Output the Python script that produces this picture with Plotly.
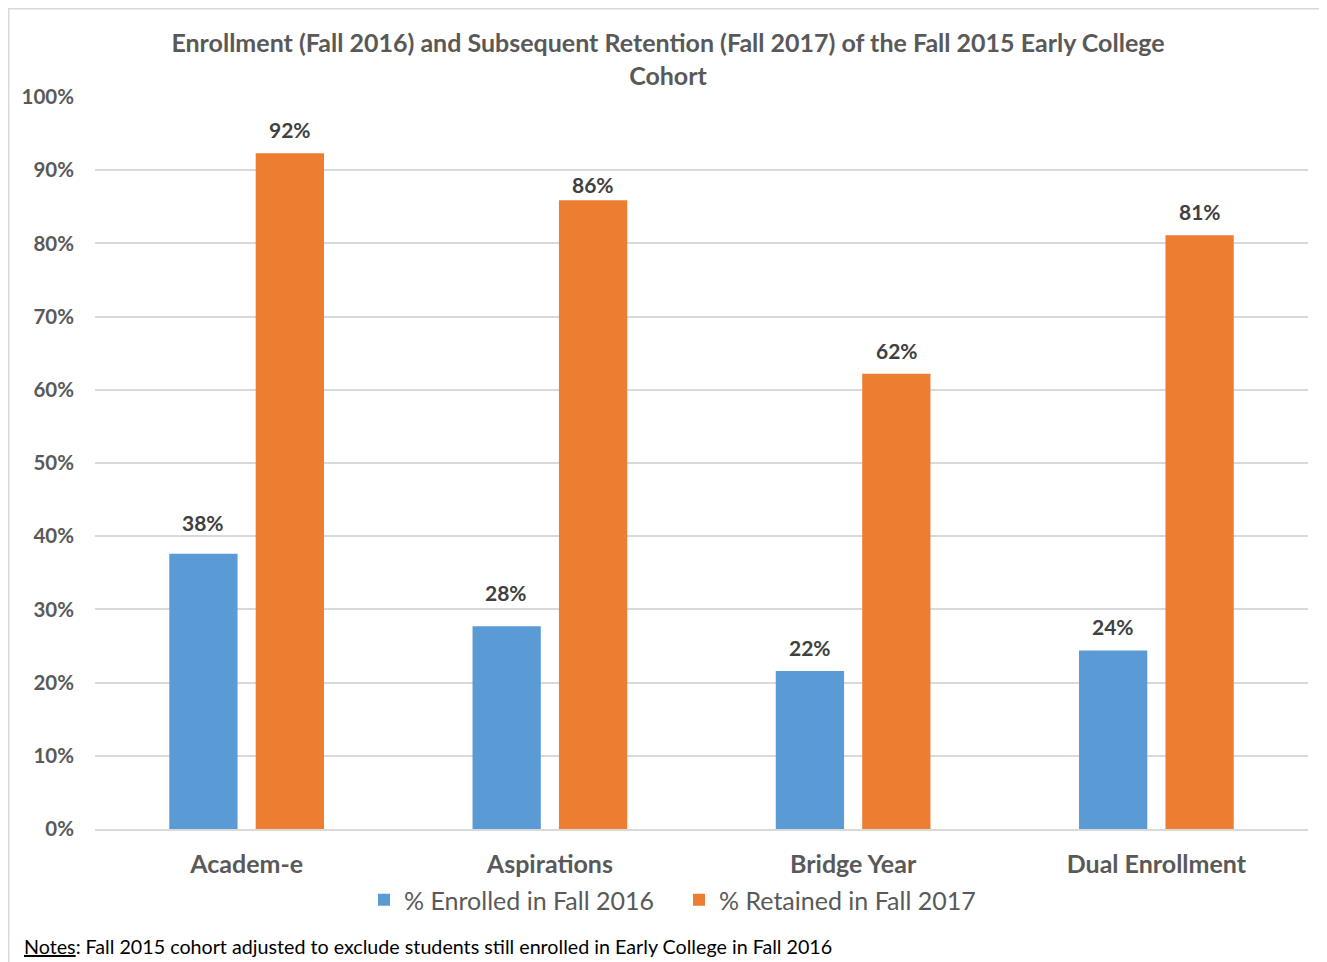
import plotly.graph_objects as go

categories = ['Academ-e', 'Aspirations', 'Bridge Year', 'Dual Enrollment']
enrolled_2016 = [37.6, 27.7, 21.6, 24.4]
retained_2017 = [92.3, 85.9, 62.2, 81.1]
series_names = ['% Enrolled in Fall 2016', '% Retained in Fall 2017']
y_ticks = [0, 10, 20, 30, 40, 50, 60, 70, 80, 90, 100]

FONT = 'Lato, Open Sans, sans-serif'
GREY = '#595959'

# page body has an 8px margin, so the figure is laid out 8px smaller
W, H = 1319, 954
L, R, T, B = 87, 19, 89, 133
PW, PH = W - L - R, H - T - B

# extra lift of a few data labels that sit higher in the source chart
label_lift_enrolled = [8, 10, 0, 0]
label_lift_retained = [0, -8, 0, 0]

fig = go.Figure()
for name, vals, color in [(series_names[0], enrolled_2016, '#5b9bd5'),
                          (series_names[1], retained_2017, '#ed7d31')]:
    fig.add_trace(go.Bar(
        x=categories, y=vals, name=name,
        marker=dict(color=color, line=dict(width=0)),
    ))

# data labels, placed over each bar of the group
for vals, lifts, shift in [(enrolled_2016, label_lift_enrolled, -43.5),
                           (retained_2017, label_lift_retained, 43.5)]:
    for c, v, lift in zip(categories, vals, lifts):
        fig.add_annotation(
            x=c, y=v, xref='x', yref='y', xshift=shift, yshift=9 + lift,
            text='<b>%.0f%%</b>' % v, showarrow=False, yanchor='bottom',
            font=dict(size=21, color='#404040', family=FONT),
        )

fig.update_layout(
    width=W, height=H,
    paper_bgcolor='white', plot_bgcolor='white',
    margin=dict(l=L, r=R, t=T, b=B),
    barmode='group', bargap=0.43, bargroupgap=0.21,
    font=dict(family=FONT, color=GREY),
    title=dict(
        text='<b>Enrollment (Fall 2016) and Subsequent Retention (Fall 2017) of the Fall 2015 Early College<br>Cohort</b>',
        x=660 / W, xanchor='center', y=1 - 44 / H, yanchor='middle',
        font=dict(size=25, color=GREY, family=FONT),
    ),
    xaxis=dict(
        showgrid=False, showline=True, linecolor='#d9d9d9', linewidth=1.5,
        ticks='', ticklabelstandoff=12,
        tickfont=dict(size=25, color=GREY, family=FONT),
        tickvals=categories, ticktext=['<b>%s</b>' % c for c in categories],
    ),
    yaxis=dict(
        range=[0, 100], tickvals=y_ticks,
        ticktext=['<b>%d%%</b>' % t for t in y_ticks],
        showgrid=True, gridcolor='#d9d9d9', gridwidth=1.5,
        zeroline=False, showline=False, ticks='', ticklabelstandoff=20,
        tickfont=dict(size=20.5, color=GREY, family=FONT),
    ),
    legend=dict(
        orientation='h', x=(356 - L) / PW, xanchor='left',
        y=(PH + T - 892) / PH, yanchor='middle',
        font=dict(size=25, color=GREY, family=FONT),
        bgcolor='rgba(0,0,0,0)', traceorder='normal',
        entrywidth=270, entrywidthmode='pixels',
    ),
    showlegend=True,
)

fig.add_annotation(
    text='<u>Notes</u>: Fall 2015 cohort adjusted to exclude students still enrolled in Early College in Fall 2016',
    xref='paper', yref='paper', x=(14 - L) / PW, y=(PH + T - 938) / PH,
    xanchor='left', yanchor='middle', showarrow=False,
    font=dict(size=19.7, color='black', family=FONT),
)

# chart border (cropped on the right and bottom in the source image)
fig.add_shape(type='rect', xref='paper', yref='paper',
              x0=(0.75 - L) / PW, x1=(W + 20 - L) / PW,
              y0=(PH + T - H - 20) / PH, y1=(PH + T - 0.75) / PH,
              line=dict(color='#d9d9d9', width=1.5), layer='below')

fig.write_html('out.html')
